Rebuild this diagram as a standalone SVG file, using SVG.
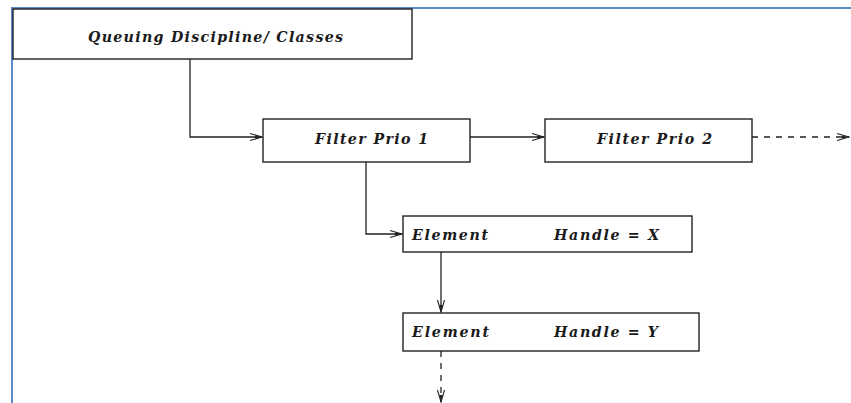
<svg xmlns="http://www.w3.org/2000/svg" width="851" height="403" viewBox="0 0 851 403">
<style>
.box{fill:#fff;stroke:#222;stroke-width:1.4}
.lbl{font-family:"DejaVu Serif","Liberation Serif",serif;font-style:italic;font-weight:bold;font-size:14.2px;fill:#1a1a1a}
.conn{fill:none;stroke:#222;stroke-width:1.3}
.dash{stroke-dasharray:6 6}
.frame{stroke:#5b8ac8;stroke-width:2;fill:none}
</style>
<defs>
<marker id="arr" viewBox="0 0 14 10" refX="13" refY="5" markerWidth="14" markerHeight="10" markerUnits="userSpaceOnUse" orient="auto">
<path d="M1,1.5 L13,5 L1,8.5" fill="none" stroke="#222" stroke-width="1.1"/>
<path d="M6,3.4 L13,5 L6,6.6 Z" fill="#222"/>
</marker>
</defs>
<path class="frame" d="M12,403 V8 H851"/>
<g id="connectors">
<path class="conn" d="M190,59 V137 H262" marker-end="url(#arr)"/>
<path class="conn" d="M470,137 H544" marker-end="url(#arr)"/>
<path class="conn dash" d="M752,137 H849" marker-end="url(#arr)"/>
<path class="conn" d="M366,162 V234 H402" marker-end="url(#arr)"/>
<path class="conn" d="M441,252 V312" marker-end="url(#arr)"/>
<path class="conn dash" d="M441,351 V402" marker-end="url(#arr)"/>
</g>
<g id="qdisc">
<rect class="box" x="13" y="9" width="399" height="50"/>
<text class="lbl" x="88" y="42" textLength="255" lengthAdjust="spacing">Queuing Discipline/ Classes</text>
</g>
<g id="filter1">
<rect class="box" x="263" y="119" width="207" height="43"/>
<text class="lbl" x="315" y="144" textLength="113" lengthAdjust="spacing">Filter Prio 1</text>
</g>
<g id="filter2">
<rect class="box" x="545" y="119" width="207" height="43"/>
<text class="lbl" x="597" y="144" textLength="115" lengthAdjust="spacing">Filter Prio 2</text>
</g>
<g id="elemX">
<rect class="box" x="403" y="216" width="289" height="36"/>
<text class="lbl" x="412" y="240" textLength="76" lengthAdjust="spacing">Element</text>
<text class="lbl" x="554" y="240" textLength="105" lengthAdjust="spacing">Handle = X</text>
</g>
<g id="elemY">
<rect class="box" x="403" y="313" width="296" height="38"/>
<text class="lbl" x="412" y="337" textLength="77" lengthAdjust="spacing">Element</text>
<text class="lbl" x="554" y="337" textLength="104" lengthAdjust="spacing">Handle = Y</text>
</g>
</svg>
